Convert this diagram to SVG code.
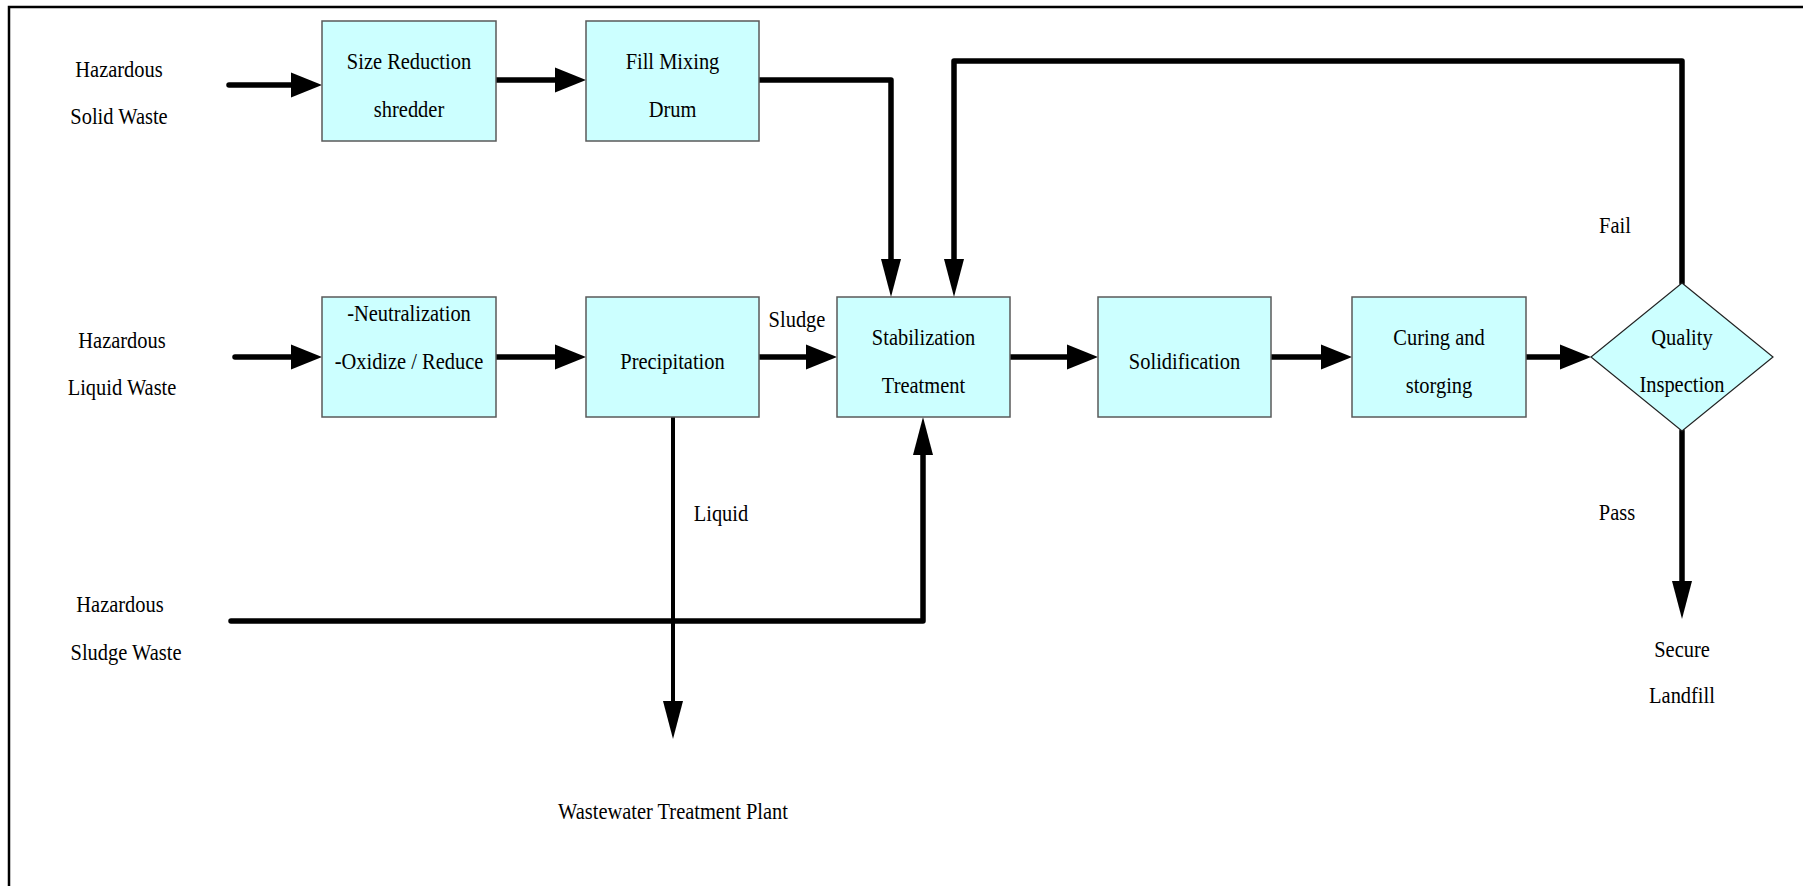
<svg xmlns="http://www.w3.org/2000/svg" width="1803" height="886" viewBox="0 0 1803 886">
<style>
  .box { fill: #CCFFFF; stroke: #5a5a5a; stroke-width: 1.5; }
  .dia { fill: #CCFFFF; stroke: #222; stroke-width: 1.2; }
  .t { font-family: "Liberation Serif", "Times New Roman", serif; font-size: 23.5px; fill: #000; text-anchor: middle; transform-box: fill-box; transform-origin: center; transform: scaleX(0.87); }
  .c { fill: none; stroke: #000; stroke-width: 5.5; stroke-linecap: round; stroke-linejoin: round; }
  .cthin { fill: none; stroke: #000; stroke-width: 4; stroke-linecap: round; stroke-linejoin: round; }
</style>
<defs>
  <marker id="ah" markerUnits="userSpaceOnUse" markerWidth="40" markerHeight="30" refX="0" refY="12.5" orient="auto" overflow="visible">
    <path d="M0,0 L31,12.5 L0,25 Z" fill="#000"/>
  </marker>
  <marker id="av" markerUnits="userSpaceOnUse" markerWidth="45" markerHeight="25" refX="0" refY="10" orient="auto" overflow="visible">
    <path d="M0,0 L38,10 L0,20 Z" fill="#000"/>
  </marker>
</defs>
<rect x="0" y="0" width="1803" height="886" fill="#fff"/>
<path d="M9,886 V7 H1803" fill="none" stroke="#000" stroke-width="2.5"/>

<g id="connectors">
  <path class="c" d="M229,85 H291" marker-end="url(#ah)"/>
  <path class="c" d="M496,80 H555" marker-end="url(#ah)"/>
  <path class="c" d="M759,80 H891 V259" marker-end="url(#av)"/>
  <path class="c" d="M235,357 H291" marker-end="url(#ah)"/>
  <path class="c" d="M496,357 H555" marker-end="url(#ah)"/>
  <path class="c" d="M759,357 H806" marker-end="url(#ah)"/>
  <path class="c" d="M1010,357 H1067" marker-end="url(#ah)"/>
  <path class="c" d="M1271,357 H1321" marker-end="url(#ah)"/>
  <path class="c" d="M1526,357 H1560" marker-end="url(#ah)"/>
  <path class="c" d="M1682,283 V61 H954 V259" marker-end="url(#av)"/>
  <path class="c" d="M1682,431 V581" marker-end="url(#av)"/>
  <path class="cthin" d="M673,417 V701" marker-end="url(#av)"/>
  <path class="c" d="M231,621 H923 V455" marker-end="url(#av)"/>
</g>

<g id="label-solid-waste">
  <text class="t" x="119" y="77">Hazardous</text>
  <text class="t" x="119" y="124">Solid Waste</text>
</g>
<g id="label-liquid-waste">
  <text class="t" x="122" y="348">Hazardous</text>
  <text class="t" x="122" y="395">Liquid Waste</text>
</g>
<g id="label-sludge-waste">
  <text class="t" x="120" y="612">Hazardous</text>
  <text class="t" x="126" y="660">Sludge Waste</text>
</g>

<g id="node-size-reduction">
  <rect class="box" x="322" y="21" width="174" height="120"/>
  <text class="t" x="409" y="69">Size Reduction</text>
  <text class="t" x="409" y="117">shredder</text>
</g>
<g id="node-fill-mixing">
  <rect class="box" x="586" y="21" width="173" height="120"/>
  <text class="t" x="672.5" y="69">Fill Mixing</text>
  <text class="t" x="672.5" y="117">Drum</text>
</g>
<g id="node-neutralization">
  <rect class="box" x="322" y="297" width="174" height="120"/>
  <text class="t" x="409" y="321">-Neutralization</text>
  <text class="t" x="409" y="369">-Oxidize / Reduce</text>
</g>
<g id="node-precipitation">
  <rect class="box" x="586" y="297" width="173" height="120"/>
  <text class="t" x="672.5" y="369">Precipitation</text>
</g>
<g id="node-stabilization">
  <rect class="box" x="837" y="297" width="173" height="120"/>
  <text class="t" x="923.5" y="345">Stabilization</text>
  <text class="t" x="923.5" y="393">Treatment</text>
</g>
<g id="node-solidification">
  <rect class="box" x="1098" y="297" width="173" height="120"/>
  <text class="t" x="1184.5" y="369">Solidification</text>
</g>
<g id="node-curing">
  <rect class="box" x="1352" y="297" width="174" height="120"/>
  <text class="t" x="1439" y="345">Curing and</text>
  <text class="t" x="1439" y="393">storging</text>
</g>
<g id="node-quality">
  <polygon class="dia" points="1682,283 1773,357 1682,431 1591,357"/>
  <text class="t" x="1682" y="345">Quality</text>
  <text class="t" x="1682" y="392">Inspection</text>
</g>
<g id="label-secure-landfill">
  <text class="t" x="1682" y="657">Secure</text>
  <text class="t" x="1682" y="703">Landfill</text>
</g>
<g id="label-wastewater">
  <text class="t" x="673" y="819">Wastewater Treatment Plant</text>
</g>
<g id="edge-labels">
  <text class="t" x="797" y="327">Sludge</text>
  <text class="t" x="721" y="521">Liquid</text>
  <text class="t" x="1615" y="233">Fail</text>
  <text class="t" x="1617" y="520">Pass</text>
</g>
</svg>
